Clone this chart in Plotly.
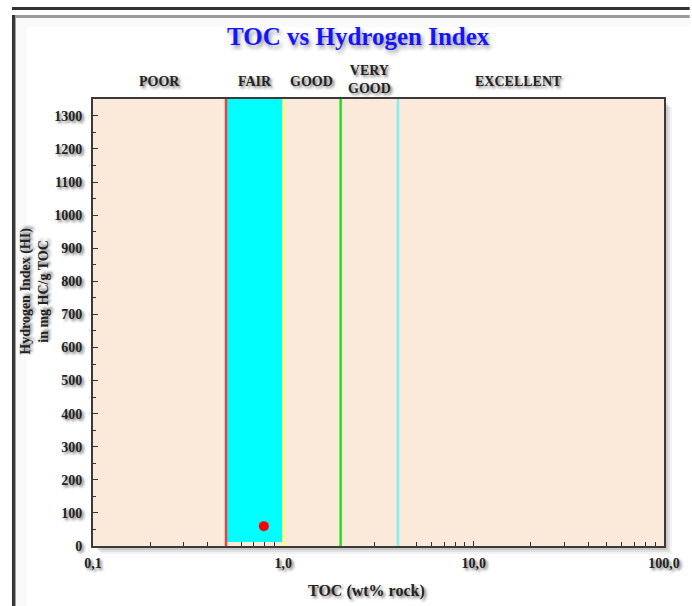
import math
import plotly.graph_objects as go

# Sample measurement
toc = [0.79]
hi = [60]

# Source-rock quality classes (TOC wt%)
class_bounds = [0.5, 1.0, 2.0, 4.0]
bound_colors = ["#f04040", "#ffff70", "#22dd22", "#7ff0f0"]
class_labels = ["POOR", "FAIR", "GOOD", "VERY<br>GOOD", "EXCELLENT"]
class_label_x = [0.2236, 0.707, 1.414, 2.83, 17.3]
class_label_ypx = [81, 81, 81, 79, 81]

x_tickvals = [0.1, 1, 10, 100]
x_ticktext = ["0,1", "1,0", "10,0", "100,0"]
x_minor = [m * d for d in (0.1, 1, 10) for m in range(2, 10)]
y_tickvals = list(range(0, 1301, 100))

W, H = 692, 606
ML, MR, MT, MB = 93, 21, 99, 60
PW, PH = W - ML - MR, H - MT - MB

SERIF = "Liberation Serif, Times New Roman, serif"
SHADOW = "2px 2px 3px rgba(0,0,0,0.55)"


def px(xp):
    return (xp - ML) / PW


def py(yp):
    return 1 - (yp - MT) / PH


shapes = []

# page frame
shapes.append(dict(type="rect", xref="paper", yref="paper", x0=px(11), x1=px(W + 5),
                   y0=py(10), y1=py(7), fillcolor="#333333", line_width=0, layer="below"))
shapes.append(dict(type="rect", xref="paper", yref="paper", x0=px(11), x1=px(W + 5),
                   y0=py(18), y1=py(15), fillcolor="#9a9a9a", line_width=0, layer="below"))
for i, c in enumerate(["#f4f4f4", "#f7f7f7", "#fafafa"]):
    shapes.append(dict(type="rect", xref="paper", yref="paper", x0=px(14), x1=px(W + 5),
                       y0=py(18 + 3 * (i + 1)), y1=py(18), fillcolor=c, line_width=0, layer="below"))
    shapes.append(dict(type="rect", xref="paper", yref="paper", x0=px(14), x1=px(14 + 4 * (i + 1)),
                       y0=py(H + 5), y1=py(18), fillcolor=c, line_width=0, layer="below"))
shapes.append(dict(type="rect", xref="paper", yref="paper", x0=px(11), x1=px(14),
                   y0=py(H + 5), y1=py(15), fillcolor="#333333", line_width=0, layer="below"))
shapes.append(dict(type="rect", xref="paper", yref="paper", x0=px(14), x1=px(15),
                   y0=py(H + 5), y1=py(18), fillcolor="#999999", line_width=0, layer="below"))

# plot-area drop shadow
for off, op in [(8, 0.05), (6, 0.07), (4, 0.1), (2, 0.12)]:
    shapes.append(dict(type="rect", xref="paper", yref="paper",
                       x0=px(ML + off), x1=px(ML + PW + off), y0=py(MT + PH + off), y1=py(MT + off),
                       fillcolor=f"rgba(0,0,0,{op})", line_width=0, layer="below"))
# plot-area fill
shapes.append(dict(type="rect", xref="x domain", yref="y domain", x0=0, x1=1, y0=0, y1=1,
                   fillcolor="#fbe9d9", line_width=0, layer="below"))
# FAIR band
shapes.append(dict(type="rect", xref="x", yref="y", x0=class_bounds[0], x1=class_bounds[1],
                   y0=12, y1=1400, fillcolor="#00ffff", line_width=0, layer="below"))
# class boundaries
for xb, col in zip(class_bounds, bound_colors):
    shapes.append(dict(type="line", xref="x", yref="y domain", x0=xb, x1=xb, y0=0, y1=1,
                       line=dict(color=col, width=2.5), layer="above"))

annotations = []
for lab, xl, yp in zip(class_labels, class_label_x, class_label_ypx):
    annotations.append(dict(text=lab, x=math.log10(xl), xref="x", y=py(yp), yref="paper",
                            showarrow=False, xanchor="center", yanchor="middle",
                            font=dict(family=SERIF, size=14, color="#222222", weight="bold",
                                      shadow=SHADOW)))
annotations.append(dict(text="TOC vs Hydrogen Index", x=px(362), y=py(37), xref="paper", yref="paper",
                        showarrow=False, xanchor="center", yanchor="middle",
                        font=dict(family=SERIF, size=25, color="#1414ff", weight="bold",
                                  shadow="2px 3px 4px rgba(0,0,0,0.45)")))
annotations.append(dict(text="TOC (wt% rock)", x=px(370), y=py(591), xref="paper", yref="paper",
                        showarrow=False, xanchor="center", yanchor="middle",
                        font=dict(family=SERIF, size=16, color="#222222", weight="bold", shadow=SHADOW)))
annotations.append(dict(text="Hydrogen Index (HI)<br>in mg HC/g TOC", x=px(33), y=py(291),
                        xref="paper", yref="paper", showarrow=False, textangle=-90,
                        xanchor="center", yanchor="middle",
                        font=dict(family=SERIF, size=14, color="#222222", weight="bold", shadow=SHADOW)))

fig = go.Figure()
fig.add_trace(go.Scatter(x=toc, y=hi, mode="markers",
                         marker=dict(color="#ff0000", size=10, line_width=0),
                         showlegend=False, hoverinfo="x+y"))

tickfont = dict(family=SERIF, size=14, color="#222222", weight="bold", shadow=SHADOW)

fig.update_layout(
    width=W, height=H,
    margin=dict(l=ML, r=MR, t=MT, b=MB, pad=0),
    paper_bgcolor="#ffffff",
    plot_bgcolor="rgba(0,0,0,0)",
    shapes=shapes,
    annotations=annotations,
    showlegend=False,
)
fig.update_xaxes(
    type="log", range=[-1, 2], tickvals=x_tickvals, ticktext=x_ticktext,
    ticks="inside", ticklen=5, tickcolor="#333333", tickwidth=1,
    minor=dict(tickvals=x_minor, ticks="inside", ticklen=4, tickcolor="#333333", tickwidth=1),
    showgrid=False, zeroline=False, showline=True, mirror=True, linecolor="#3a3a3a", linewidth=2,
    tickfont=tickfont, ticklabelstandoff=3,
)
fig.update_yaxes(
    range=[0, 1351], tickvals=y_tickvals,
    ticks="inside", ticklen=5, tickcolor="#333333", tickwidth=1,
    minor=dict(dtick=50, ticks="inside", ticklen=3, tickcolor="#333333", tickwidth=1),
    showgrid=False, zeroline=False, showline=True, mirror=True, linecolor="#3a3a3a", linewidth=2,
    tickfont=tickfont, ticklabelstandoff=6,
)

fig.write_html("out.html")
